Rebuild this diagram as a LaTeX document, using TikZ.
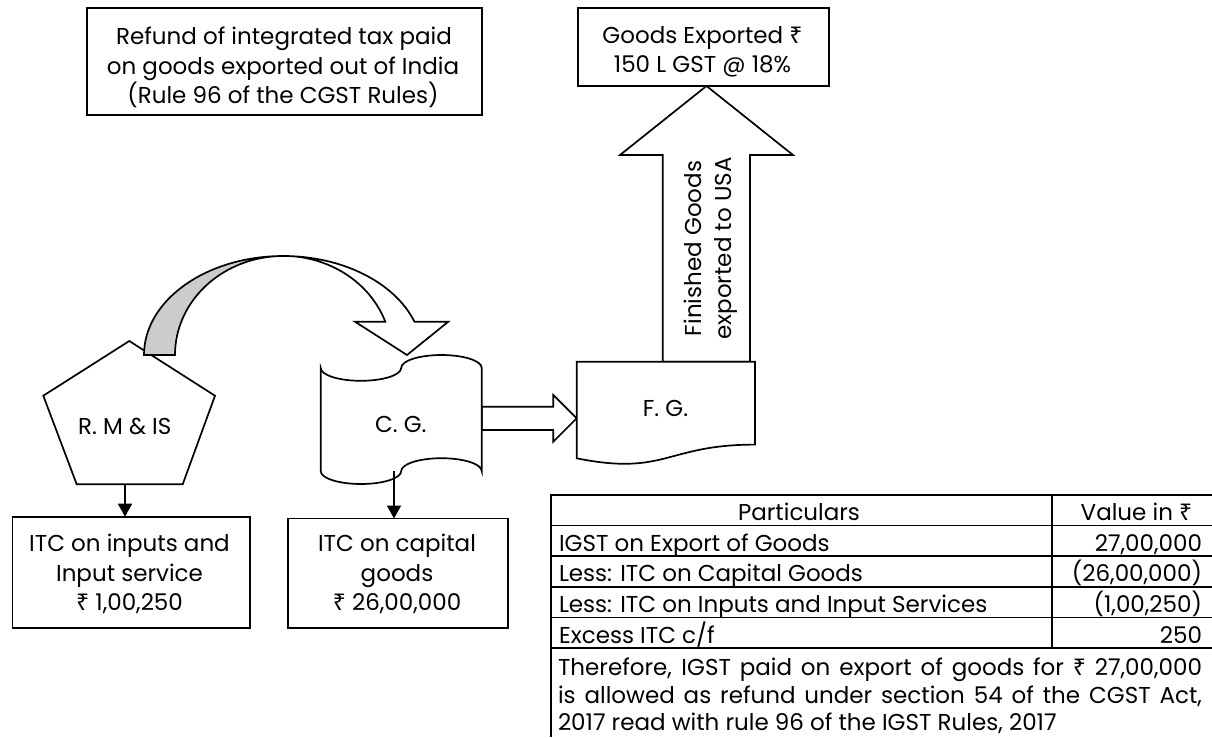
\documentclass[tikz,border=0pt]{standalone}
\usepackage{fontspec}
\setmainfont{Poppins}
\newfontfamily\rsfont{Noto Sans}
\newcommand\rupee{{\rsfont ₹}}
\usetikzlibrary{arrows.meta}
\begin{document}
\begin{tikzpicture}[x=1pt,y=-1pt,
  every node/.style={font=\fontsize{23}{28}\selectfont, inner sep=0pt, outer sep=0pt},
  ln/.style={line width=1.7pt, line join=miter},
  boxst/.style={draw, line width=1.7pt, rectangle, fill=white},
  txt/.style={anchor=base},
  lt/.style={anchor=base west},
  rt/.style={anchor=base east},
  vtxt/.style={anchor=base, rotate=90},
  thinarrow/.style={line width=1.7pt, -{Triangle[length=13pt,width=14pt]}},
  blockarrow/.style={draw, line width=1.7pt, fill=white, line join=miter},
  backface/.style={draw, line width=1.7pt, fill=black!20, line join=miter}
]
\useasboundingbox (0,0) rectangle (1212,737);

% title box
\node[boxst, minimum width=395pt, minimum height=106.7pt] (title) at (284.2,61.65) {};
\node[txt] (title1) at (284,44.3) {Refund of integrated tax paid};
\node[txt] (title2) at (283,74) {on goods exported out of India};
\node[txt] (title3) at (283,103.3) {(Rule 96 of the CGST Rules)};

% goods exported box
\node[boxst, minimum width=251pt, minimum height=77.7pt] (goods) at (703.8,47.15) {};
\node[txt] (goods1) at (702.5,43.3) {Goods Exported \rupee};
\node[txt] (goods2) at (702.5,72.7) {150 L GST @ 18\%};

% big up arrow from F.G. to goods box
\coordinate (uptip) at (706.5,86);
\draw[blockarrow] (662.7,361.7) -- (662.7,155) -- (620,155) -- (uptip) -- (793,155) -- (750,155) -- (750,361.7) -- cycle;
\node[vtxt] (fin1) at (701.7,248.5) {Finished Goods};
\node[vtxt] (fin2) at (731.7,248.5) {exported to USA};

% C.G. to F.G. block arrow
\draw[blockarrow] (481.7,406.7) -- (553.3,406.7) -- (553.3,395) -- (576.7,418.3) -- (553.3,441.7) -- (553.3,430) -- (481.7,430) -- cycle;

% F.G. document shape
\draw[ln, fill=white] (576.7,361.7) -- (755,361.7) -- (755,444.6)
  .. controls (665.85,444.6) and (665.85,476.2) .. (576.7,458.3) -- cycle;
\node[txt] (fg) at (665.5,416.7) {F. G.};

% C.G. punched tape shape
\draw[ln, fill=white] (320.7,367.9)
  arc[start angle=180, end angle=0, x radius=40.25, y radius=12.9]
  arc[start angle=180, end angle=360, x radius=40.25, y radius=12.9]
  -- (481.7,471.1)
  arc[start angle=0, end angle=-180, x radius=40.25, y radius=12.9]
  arc[start angle=0, end angle=180, x radius=40.25, y radius=12.9]
  -- cycle;
\node[txt] (cg) at (400.8,432.3) {C. G.};

% R.M & IS pentagon
\draw[ln, fill=white] (129.3,341) -- (215,395.7) -- (182.7,484.3) -- (76.7,484.3) -- (43.3,395.7) -- cycle;
\node[txt] (rm) at (124.7,434) {R. M \& IS};

% curved arrow from R.M & IS to C.G.
\draw[backface] (144,355)
  arc[start angle=180, end angle=270, x radius=139.3, y radius=99]
  arc[start angle=270, end angle=180, x radius=108.3, y radius=99]
  -- cycle;
\draw[blockarrow] (283.3,256)
  arc[start angle=270, end angle=340.4, x radius=139.3, y radius=99]
  -- (448.3,321.7) -- (407,355) -- (355,321.7) -- (385.3,321.7)
  arc[start angle=340.4, end angle=270, x radius=108.3, y radius=99]
  -- cycle;

% ITC boxes
\node[boxst, minimum width=237.3pt, minimum height=111.6pt] (box1) at (131,572.5) {};
\node[txt] (b1a) at (129.5,551.7) {ITC on inputs and};
\node[txt] (b1b) at (129.5,581) {Input service};
\node[txt] (b1c) at (129.5,610.5) {\rupee\ 1,00,250};

\node[boxst, minimum width=219.9pt, minimum height=109.8pt] (box2) at (397.75,573.4) {};
\node[txt] (b2a) at (397,551.7) {ITC on capital};
\node[txt] (b2b) at (397,581) {goods};
\node[txt] (b2c) at (397,610.5) {\rupee\ 26,00,000};

\coordinate (rmb) at (125,484.3);
\draw[thinarrow] (rmb) -- (rmb |- box1.north);
\coordinate (cgb) at (394,471);
\draw[thinarrow] (cgb) -- (cgb |- box2.north);

% table
\draw[ln] (551,737) -- (551,495) -- (1212,495);
\foreach \yy in {525.5,556.3,587,617.5,648.3} { \draw[ln] (551,\yy) -- (1212,\yy); }
\draw[ln] (1052,495) -- (1052,648.3);

\node[txt] (hpart) at (799,520) {Particulars};
\node[txt] (hval) at (1136.5,520) {Value in \rupee};
\node[lt] (r1) at (559,551.7) {IGST on Export of Goods};
\node[rt] (v1) at (1202,551.7) {27,00,000};
\node[lt] (r2) at (559,581.7) {Less: ITC on Capital Goods};
\node[rt] (v2) at (1202,581.7) {(26,00,000)};
\node[lt] (r3) at (559,612.3) {Less: ITC on Inputs and Input Services};
\node[rt] (v3) at (1202,612.3) {(1,00,250)};
\node[lt] (r4) at (559,643.3) {Excess ITC c/f};
\node[rt] (v4) at (1202,643.3) {250};
\node[lt] (p1) at (558,675) {\makebox[644pt][s]{Therefore, IGST paid on export of goods for \rupee\ 27,00,000}};
\node[lt] (p2) at (558,703) {\makebox[644pt][s]{is allowed as refund under section 54 of the CGST Act,}};
\node[lt] (p3) at (558,730.5) {2017 read with rule 96 of the IGST Rules, 2017};
\end{tikzpicture}
\end{document}
